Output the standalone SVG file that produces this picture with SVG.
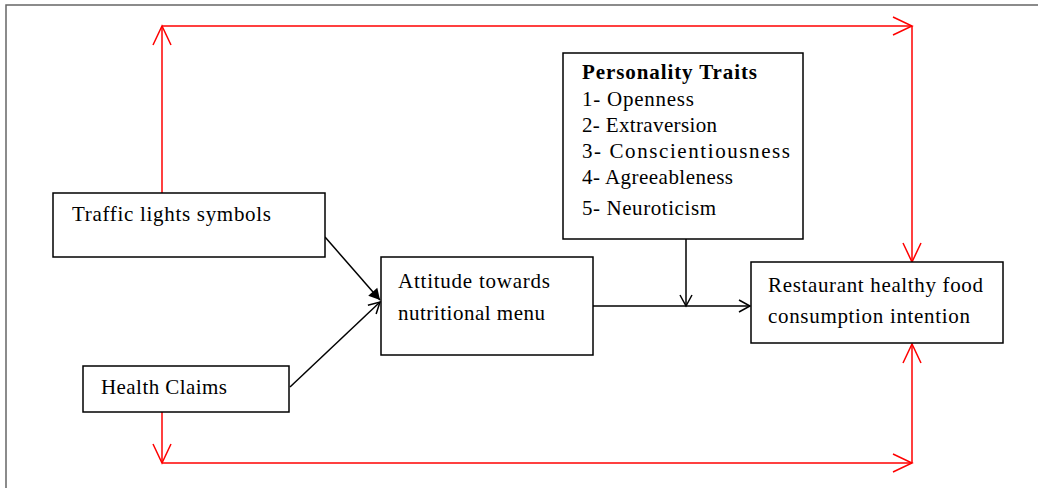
<svg xmlns="http://www.w3.org/2000/svg" width="1038" height="488" viewBox="0 0 1038 488">
<style>
.box{fill:#fff;stroke:#000;stroke-width:1.5}
.t{font-family:"Liberation Serif",serif;font-size:21px;fill:#000}
.b{font-weight:bold}
.k{stroke:#000;stroke-width:1.5;fill:none}
.r{stroke:#f00;stroke-width:1.5;fill:none}
</style>
<defs>
<marker id="ob" markerWidth="14" markerHeight="14" refX="12" refY="7" orient="auto" markerUnits="userSpaceOnUse"><path d="M1,1 L12,7 L1,13" fill="none" stroke="#000" stroke-width="1.5"/></marker>
<marker id="fb" markerWidth="14" markerHeight="14" refX="12" refY="7" orient="auto" markerUnits="userSpaceOnUse"><path d="M1,1 L12,7 L1,13 Z" fill="#000"/></marker>
<marker id="or" markerWidth="22" markerHeight="22" refX="20" refY="10" orient="auto" markerUnits="userSpaceOnUse"><path d="M1,1 L20,10 L1,19" fill="none" stroke="#f00" stroke-width="1.5"/></marker>
</defs>
<path d="M6,488 V5 H1038" fill="none" stroke="#666" stroke-width="1.5"/>
<g id="connectors">
<path class="r" d="M162,193 V26" marker-end="url(#or)"/>
<path class="r" d="M162,26 H912" marker-end="url(#or)"/>
<path class="r" d="M912,26 V262" marker-end="url(#or)"/>
<path class="r" d="M162,412 V463" marker-end="url(#or)"/>
<path class="r" d="M162,463 H912" marker-end="url(#or)"/>
<path class="r" d="M912,463 V344" marker-end="url(#or)"/>
<path class="k" d="M325,237 L380,300" marker-end="url(#fb)"/>
<path class="k" d="M290,387 L380,302" marker-end="url(#ob)"/>
<path class="k" d="M593,306 H750" marker-end="url(#ob)"/>
<path class="k" d="M686,239 V306" marker-end="url(#ob)"/>
</g>
<g id="traffic">
<rect class="box" x="53" y="193" width="272" height="64"/>
<text class="t" x="72" y="221" textLength="199" lengthAdjust="spacing">Traffic lights  symbols</text>
</g>
<g id="health">
<rect class="box" x="83" y="366" width="206" height="46"/>
<text class="t" x="101" y="394" textLength="126" lengthAdjust="spacing">Health Claims</text>
</g>
<g id="attitude">
<rect class="box" x="381" y="257" width="212" height="98"/>
<text class="t" x="398" y="288" textLength="152" lengthAdjust="spacing">Attitude towards</text>
<text class="t" x="398" y="320" textLength="147" lengthAdjust="spacing">nutritional menu</text>
</g>
<g id="personality">
<rect class="box" x="563" y="53" width="240" height="186"/>
<text class="t b" x="582" y="79" textLength="175" lengthAdjust="spacing">Personality Traits</text>
<text class="t" x="582" y="106" textLength="112" lengthAdjust="spacing">1- Openness</text>
<text class="t" x="582" y="132" textLength="135" lengthAdjust="spacing">2- Extraversion</text>
<text class="t" x="582" y="158" textLength="208" lengthAdjust="spacing">3- Conscientiousness</text>
<text class="t" x="582" y="184" textLength="151" lengthAdjust="spacing">4- Agreeableness</text>
<text class="t" x="582" y="215" textLength="134" lengthAdjust="spacing">5- Neuroticism</text>
</g>
<g id="restaurant">
<rect class="box" x="751" y="262" width="252" height="81"/>
<text class="t" x="768" y="292" textLength="215" lengthAdjust="spacing">Restaurant healthy  food</text>
<text class="t" x="768" y="323" textLength="202" lengthAdjust="spacing">consumption intention</text>
</g>
</svg>
